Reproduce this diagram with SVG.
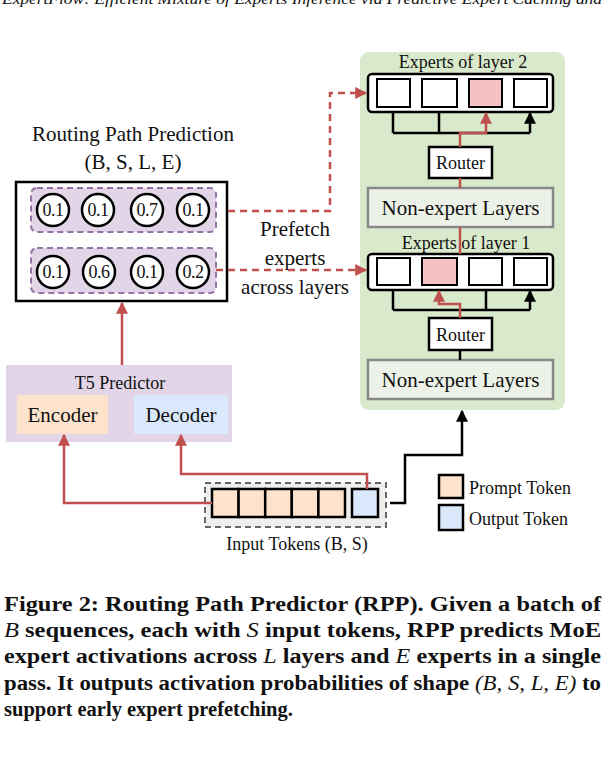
<svg xmlns="http://www.w3.org/2000/svg" width="605" height="775" viewBox="0 0 605 775">
<defs>
<marker id="ar" viewBox="0 0 10 10" refX="9" refY="5" markerWidth="14" markerHeight="12" orient="auto" markerUnits="userSpaceOnUse"><path d="M0,0L10,5L0,10z" fill="#c0504d"/></marker>
<marker id="ab" viewBox="0 0 10 10" refX="9" refY="5" markerWidth="14" markerHeight="12" orient="auto" markerUnits="userSpaceOnUse"><path d="M0,0L10,5L0,10z" fill="#000"/></marker>
<style>
text{font-family:"Liberation Serif",serif;fill:#111}
.t{font-size:21px}
.s{font-size:18px}
.n{font-size:18px;letter-spacing:-0.5px}
.ob{fill:#fff;stroke:#000;stroke-width:2.5}
.eb{fill:#fff;stroke:#000;stroke-width:2}
.pk{fill:#f4c2c2}
.ne{fill:#edf2e8;stroke:#888;stroke-width:2.5}
.rl{fill:none;stroke:#c0504d;stroke-width:2.5}
.bl{fill:none;stroke:#000;stroke-width:2.5}
.rd{fill:none;stroke:#c0504d;stroke-width:2.5;stroke-dasharray:7 5}
.c{fill:#fff;stroke:#000;stroke-width:2.5}
.cap{font-size:20.5px;font-weight:bold}
.i{font-style:italic;font-weight:normal}
</style>
</defs>
<text x="2" y="4" style="font-size:15px;font-style:italic" textLength="600" lengthAdjust="spacingAndGlyphs">ExpertFlow: Efficient Mixture of Experts Inference via Predictive Expert Caching and</text>

<g id="moe-panel">
<rect x="360" y="52" width="205" height="358" rx="9" fill="#d9e9cb"/>
</g>

<g id="layer2">
<text x="463" y="68" class="s" text-anchor="middle">Experts of layer 2</text>
<rect x="368" y="74" width="185" height="38" rx="4" class="ob"/>
<rect x="377" y="79" width="33" height="28" class="eb"/>
<rect x="422" y="79" width="35" height="28" class="eb"/>
<rect x="469" y="79" width="33" height="28" class="eb pk"/>
<rect x="514" y="79" width="33" height="28" class="eb"/>
</g>
<g id="router2">
<rect x="429" y="147" width="63" height="31" class="ob"/>
<text x="460.5" y="169" class="s" text-anchor="middle">Router</text>
</g>
<g id="nonexpert2">
<rect x="368" y="188" width="185" height="39" class="ne"/>
<text x="460.5" y="215" class="t" text-anchor="middle" fill="#333">Non-expert Layers</text>
</g>
<g id="layer1">
<text x="466" y="249" class="s" text-anchor="middle">Experts of layer 1</text>
<rect x="368" y="254" width="185" height="36" rx="4" class="ob"/>
<rect x="377" y="258" width="33" height="27" class="eb"/>
<rect x="422" y="258" width="35" height="27" class="eb pk"/>
<rect x="469" y="258" width="33" height="27" class="eb"/>
<rect x="514" y="258" width="33" height="27" class="eb"/>
</g>
<g id="router1">
<rect x="429" y="318" width="63" height="32" class="ob"/>
<text x="460.5" y="341" class="s" text-anchor="middle">Router</text>
</g>
<g id="nonexpert1">
<rect x="368" y="360" width="185" height="39" class="ne"/>
<text x="460.5" y="387" class="t" text-anchor="middle" fill="#333">Non-expert Layers</text>
</g>

<g id="rpp">
<text x="133" y="141" class="t" text-anchor="middle">Routing Path Prediction</text>
<text x="133" y="169" class="t" text-anchor="middle">(B, S, L, E)</text>
<rect x="16" y="182" width="211" height="119" fill="#fff" stroke="#000" stroke-width="2.5"/>
<rect x="31" y="188" width="185" height="44" rx="6" fill="#e1d5e7" stroke="#9673a6" stroke-width="2" stroke-dasharray="6 4"/>
<rect x="31" y="248" width="185" height="45" rx="6" fill="#e1d5e7" stroke="#9673a6" stroke-width="2" stroke-dasharray="6 4"/>
<circle cx="53" cy="210" r="16" class="c"/><circle cx="98" cy="210" r="16" class="c"/><circle cx="147" cy="210" r="16" class="c pk"/><circle cx="193" cy="210" r="16" class="c"/>
<circle cx="53" cy="272" r="16" class="c"/><circle cx="99" cy="272" r="16" class="c pk"/><circle cx="147" cy="272" r="16" class="c"/><circle cx="193" cy="272" r="16" class="c"/>
<g class="n" text-anchor="middle">
<text x="53" y="216">0.1</text><text x="98" y="216">0.1</text><text x="147" y="216">0.7</text><text x="193" y="216">0.1</text>
<text x="53" y="278">0.1</text><text x="99" y="278">0.6</text><text x="147" y="278">0.1</text><text x="193" y="278">0.2</text>
</g>
</g>

<g id="prefetch-label" class="t" text-anchor="middle">
<text x="295" y="236">Prefetch</text>
<text x="295" y="265">experts</text>
<text x="295" y="294">across layers</text>
</g>

<g id="t5">
<rect x="6" y="365" width="226" height="77" fill="#e1d5e7"/>
<text x="120" y="389" class="s" text-anchor="middle">T5 Predictor</text>
<rect x="17" y="395" width="91" height="39" fill="#fde3cb"/>
<text x="62.5" y="422" class="t" text-anchor="middle">Encoder</text>
<rect x="134" y="395" width="94" height="39" fill="#dae8fb"/>
<text x="181" y="422" class="t" text-anchor="middle">Decoder</text>
</g>

<g id="tokens">
<rect x="205" y="483" width="181" height="44" fill="#eee" stroke="#666" stroke-width="2" stroke-dasharray="6 4"/>
<rect x="212" y="489" width="26.6" height="28" fill="#fde3cb" stroke="#000" stroke-width="2.5"/>
<rect x="238.6" y="489" width="26.6" height="28" fill="#fde3cb" stroke="#000" stroke-width="2.5"/>
<rect x="265.2" y="489" width="26.6" height="28" fill="#fde3cb" stroke="#000" stroke-width="2.5"/>
<rect x="291.8" y="489" width="26.6" height="28" fill="#fde3cb" stroke="#000" stroke-width="2.5"/>
<rect x="318.4" y="489" width="26.6" height="28" fill="#fde3cb" stroke="#000" stroke-width="2.5"/>
<rect x="352" y="489" width="26" height="28" fill="#dae8fb" stroke="#000" stroke-width="2.5"/>
<text x="297" y="550" class="s" text-anchor="middle">Input Tokens (B, S)</text>
</g>

<g id="legend">
<rect x="439" y="475" width="24" height="23" fill="#fde3cb" stroke="#000" stroke-width="2.5"/>
<text x="469" y="494" class="s">Prompt Token</text>
<rect x="439" y="505" width="24" height="25" fill="#dae8fb" stroke="#000" stroke-width="2.5"/>
<text x="469" y="525" class="s">Output Token</text>
</g>

<g id="connectors">
<path d="M393,133H530" class="bl"/>
<path d="M393,133V113M439,133V113M530,133V113" class="bl" marker-end="url(#ab)"/>
<path d="M460,147V133H486V113" class="rl" marker-end="url(#ar)"/>
<path d="M460,178V188M460,227V254" class="rl"/>
<path d="M393,310H530" class="bl"/>
<path d="M393,310V291M486,310V291M530,310V291" class="bl" marker-end="url(#ab)"/>
<path d="M460,318V304H439V291" class="rl" marker-end="url(#ar)"/>
<path d="M460,350V360" class="bl"/>
<path d="M228,211H330V93H366" class="rd" marker-end="url(#ar)"/>
<path d="M216,270H366" class="rd" marker-end="url(#ar)"/>
<path d="M122,365V303" class="rl" marker-end="url(#ar)"/>
<path d="M212,503H64V435" class="rl" marker-end="url(#ar)"/>
<path d="M367,489V474H181V435" class="rl" marker-end="url(#ar)"/>
<path d="M390,503H405V455H462V411" class="bl" marker-end="url(#ab)"/>
</g>

<g id="caption" class="cap">
<text x="4" y="611" textLength="597" lengthAdjust="spacingAndGlyphs">Figure 2: Routing Path Predictor (RPP). Given a batch of</text>
<text x="4" y="637" textLength="597" lengthAdjust="spacingAndGlyphs"><tspan class="i">B</tspan> sequences, each with <tspan class="i">S</tspan> input tokens, RPP predicts MoE</text>
<text x="4" y="663" textLength="597" lengthAdjust="spacingAndGlyphs">expert activations across <tspan class="i">L</tspan> layers and <tspan class="i">E</tspan> experts in a single</text>
<text x="4" y="690" textLength="597" lengthAdjust="spacingAndGlyphs">pass. It outputs activation probabilities of shape <tspan class="i">(B, S, L, E)</tspan> to</text>
<text x="4" y="716">support early expert prefetching.</text>
</g>
</svg>
